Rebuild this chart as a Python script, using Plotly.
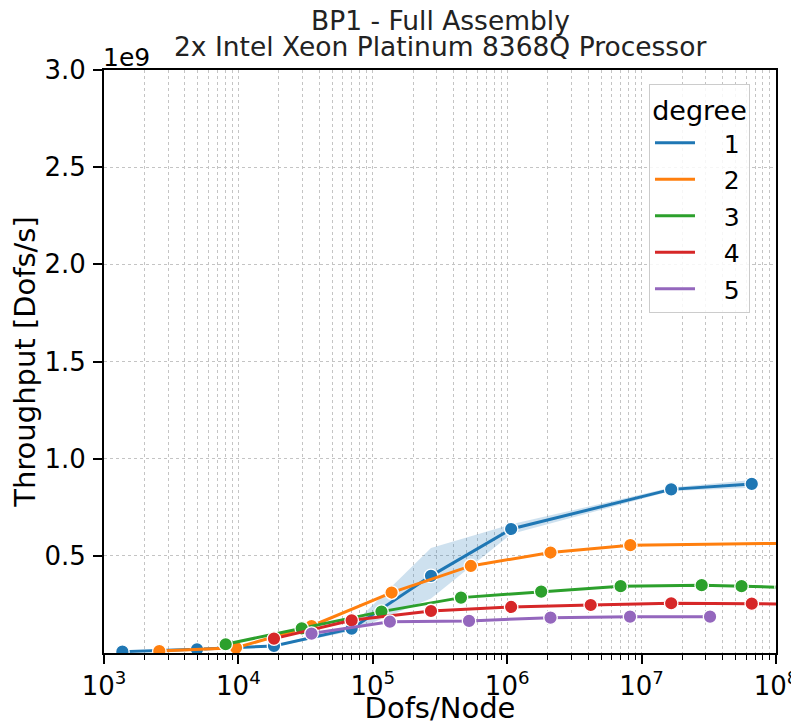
import plotly.graph_objects as go

# ---------------- data (throughput in units of 1e9 Dofs/s) ----------------
deg1_x = [1370, 4920, 18400, 69600, 271000, 1.07e6, 1.66e7, 6.6e7]
deg1_y = [0.007, 0.019, 0.036, 0.125, 0.397, 0.638, 0.842, 0.870]
deg1_lo = [0.005, 0.016, 0.032, 0.112, 0.280, 0.612, 0.834, 0.850]
deg1_hi = [0.009, 0.022, 0.040, 0.140, 0.540, 0.662, 0.851, 0.890]

deg2_x = [2580, 9600, 35000, 138000, 536000, 2.1e6, 8.24e6, 1.32e8]
deg2_y = [0.010, 0.027, 0.139, 0.311, 0.448, 0.517, 0.555, 0.565]

deg3_x = [8040, 29600, 116000, 453000, 1.79e6, 6.98e6, 2.8e7, 5.54e7, 1.1e8]
deg3_y = [0.045, 0.127, 0.213, 0.285, 0.316, 0.344, 0.349, 0.344, 0.338]

deg4_x = [18400, 69600, 271000, 1.07e6, 4.18e6, 1.66e7, 6.6e7, 1.32e8]
deg4_y = [0.074, 0.168, 0.216, 0.237, 0.247, 0.256, 0.254, 0.251]

deg5_x = [35000, 134000, 520000, 2.1e6, 8.2e6, 3.23e7]
deg5_y = [0.100, 0.161, 0.165, 0.182, 0.187, 0.187]

degrees = ["1", "2", "3", "4", "5"]
colors = ["#1f77b4", "#ff7f0e", "#2ca02c", "#d62728", "#9467bd"]

x_major = [1e3, 1e4, 1e5, 1e6, 1e7, 1e8]
x_major_text = ["10<sup>3</sup>", "10<sup>4</sup>", "10<sup>5</sup>",
                "10<sup>6</sup>", "10<sup>7</sup>", "10<sup>8</sup>"]
y_ticks = [0.5, 1.0, 1.5, 2.0, 2.5, 3.0]
y_ticktext = ["0.5", "1.0", "1.5", "2.0", "2.5", "3.0"]

FONT = "DejaVu Sans"
TITLE = 26.5
LBL = 29
TCK = 26
LEG = 25

series = [(deg1_x, deg1_y), (deg2_x, deg2_y), (deg3_x, deg3_y),
          (deg4_x, deg4_y), (deg5_x, deg5_y)]

fig = go.Figure()

# confidence band for degree 1
fig.add_trace(go.Scatter(
    x=deg1_x + deg1_x[::-1], y=deg1_hi + deg1_lo[::-1],
    fill="toself", fillcolor="rgba(31,119,180,0.22)",
    line=dict(width=0), mode="lines", showlegend=False, hoverinfo="skip"))

for (xs, ys), c, d in zip(series, colors, degrees):
    fig.add_trace(go.Scatter(
        x=xs, y=ys, mode="lines+markers", name=d, showlegend=False,
        line=dict(color=c, width=3),
        marker=dict(color=c, size=13.5, line=dict(color="white", width=1.3))))

# legend-only entries (lines without markers)
for c, d in zip(colors, degrees):
    fig.add_trace(go.Scatter(
        x=[None], y=[None], mode="lines", name="\u00a0\u00a0\u00a0" + d, legendgroup=d,
        line=dict(color=c, width=3), showlegend=True))

minor_vals = [m * 10 ** e for e in range(3, 8) for m in range(2, 10)]

# page body adds an 8px offset; the figure is sized/margined to compensate
fig.update_layout(
    width=791, height=717,
    margin=dict(l=96, r=23, t=62, b=72),
    paper_bgcolor="white", plot_bgcolor="white",
    font=dict(family=FONT, size=TCK, color="black"),
    xaxis=dict(type="log", range=[3, 8], automargin=False,
               tickmode="array", tickvals=x_major, ticktext=x_major_text,
               ticks="outside", ticklen=9, tickwidth=1.8, tickcolor="black",
               showline=True, linecolor="black", linewidth=2, mirror=True,
               showgrid=True, gridcolor="#c4c4c4", gridwidth=1, griddash="dot",
               zeroline=False,
               minor=dict(tickmode="array", tickvals=minor_vals,
                          ticks="outside", ticklen=5, tickwidth=1.4, tickcolor="black",
                          showgrid=True, gridcolor="#c4c4c4", gridwidth=1, griddash="dot"),
               title=dict(text="Dofs/Node", font=dict(size=LBL), standoff=4),
               tickfont=dict(size=TCK)),
    yaxis=dict(range=[0, 3.0], automargin=False,
               tickmode="array", tickvals=y_ticks, ticktext=y_ticktext,
               ticks="outside", ticklen=9, tickwidth=1.8, tickcolor="black",
               showline=True, linecolor="black", linewidth=2, mirror=True,
               showgrid=True, gridcolor="#c4c4c4", gridwidth=1, griddash="dot",
               zeroline=False, ticklabelstandoff=2,
               title=dict(text="Throughput [Dofs/s]", font=dict(size=LBL), standoff=6),
               tickfont=dict(size=TCK)),
    legend=dict(x=0.811, y=0.976, xanchor="left", yanchor="top",
                bgcolor="rgba(255,255,255,0.85)", bordercolor="#cccccc", borderwidth=1,
                title=dict(text="degree", side="top center", font=dict(size=LBL - 2)),
                font=dict(size=LEG), traceorder="grouped", tracegroupgap=1,
                itemwidth=40),
    annotations=[
        dict(text="1e9", xref="paper", yref="paper", x=0.0, y=1.0,
             xanchor="left", yanchor="bottom", showarrow=False,
             font=dict(size=TCK - 1, family=FONT), xshift=-3, yshift=-4),
        dict(text="BP1 - Full Assembly", xref="paper", yref="paper", x=0.5, y=1.0,
             xanchor="center", yanchor="middle", showarrow=False,
             font=dict(size=TITLE, family=FONT, color="#222"), yshift=50),
        dict(text="2x Intel Xeon Platinum 8368Q Processor", xref="paper", yref="paper",
             x=0.5, y=1.0, xanchor="center", yanchor="middle", showarrow=False,
             font=dict(size=TITLE, family=FONT, color="#222"), yshift=24),
    ],
)

fig.write_html("out.html")
